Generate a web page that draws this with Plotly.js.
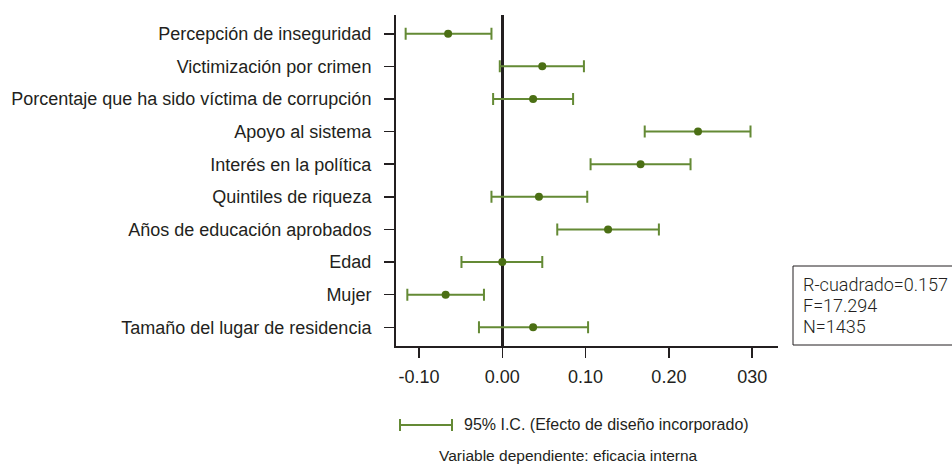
<!DOCTYPE html>
<html>
<head>
<meta charset="utf-8">
<script src="https://cdn.plot.ly/plotly-3.0.1.min.js"></script>
<style>html,body{margin:0;padding:0;background:#fff;}#chart{width:952px;height:466px;}</style>
</head>
<body>
<div id="chart"></div>
<script>
const categories = [
  "Percepción de inseguridad",
  "Victimización por crimen",
  "Porcentaje que ha sido víctima de corrupción",
  "Apoyo al sistema",
  "Interés en la política",
  "Quintiles de riqueza",
  "Años de educación aprobados",
  "Edad",
  "Mujer",
  "Tamaño del lugar de residencia"
];
const coef   = [-0.065, 0.048, 0.037, 0.235, 0.166, 0.044, 0.127, 0.000, -0.068, 0.037];
const ciLow  = [-0.116, -0.003, -0.011, 0.171, 0.106, -0.013, 0.066, -0.049, -0.114, -0.028];
const ciHigh = [-0.013, 0.098, 0.085, 0.298, 0.226, 0.102, 0.188, 0.048, -0.022, 0.103];
const xTickVals = [-0.10, 0.00, 0.10, 0.20, 0.30];
const xTickText = ["-0.10", "0.00", "0.10", "0.20", "030"];
const statsLines = ["R-cuadrado=0.157", "F=17.294", "N=1435"];
const legendText = "95% I.C. (Efecto de diseño incorporado)";
const footText = "Variable dependiente: eficacia interna";

const dark = "#231f20";
const green = "#4b6f14";
const greenLine = "#648a35";
const font = "Arial, 'Liberation Sans', Helvetica, sans-serif";
const statFont = "Roboto, 'Noto Sans', sans-serif";

const trace = {
  type: "scatter",
  mode: "markers",
  x: coef,
  y: categories,
  marker: {color: green, size: 8},
  error_x: {
    type: "data",
    symmetric: false,
    array: coef.map((c, i) => ciHigh[i] - c),
    arrayminus: coef.map((c, i) => c - ciLow[i]),
    color: greenLine,
    thickness: 2,
    width: 6
  },
  showlegend: false,
  hoverinfo: "skip"
};

const px = v => (v - 396) / 382;
const py = v => 1 - (v - 15) / 331;

const layout = {
  width: 952,
  height: 466,
  margin: {l: 396, r: 174, t: 15, b: 120},
  paper_bgcolor: "#fff",
  plot_bgcolor: "#fff",
  font: {family: font, color: dark, size: 18},
  showlegend: false,
  xaxis: {
    range: [-0.1276, 0.331],
    tickvals: xTickVals,
    ticktext: xTickText,
    showgrid: false,
    zeroline: true,
    zerolinecolor: dark,
    zerolinewidth: 2.5,
    showline: true,
    linecolor: dark,
    linewidth: 2,
    ticks: "outside",
    ticklen: 10,
    tickwidth: 1.5,
    tickcolor: dark,
    tickfont: {family: font, size: 18, color: dark},
    ticklabelstandoff: 3,
    fixedrange: true
  },
  yaxis: {
    type: "category",
    range: [9.575, -0.575],
    showgrid: false,
    zeroline: false,
    showline: true,
    linecolor: dark,
    linewidth: 2,
    ticks: "outside",
    ticklen: 10,
    tickwidth: 1.5,
    tickcolor: dark,
    tickfont: {family: font, size: 18, color: dark},
    ticklabelstandoff: 9,
    fixedrange: true
  },
  shapes: [
    {type: "rect", xref: "paper", yref: "paper",
     x0: px(793), x1: px(965), y0: py(345), y1: py(266),
     line: {color: dark, width: 1}, fillcolor: "rgba(0,0,0,0)"},
    {type: "line", xref: "paper", yref: "paper",
     x0: px(400), x1: px(452), y0: py(425), y1: py(425),
     line: {color: greenLine, width: 2}},
    {type: "line", xref: "paper", yref: "paper",
     x0: px(400), x1: px(400), y0: py(419), y1: py(431),
     line: {color: greenLine, width: 2}},
    {type: "line", xref: "paper", yref: "paper",
     x0: px(452), x1: px(452), y0: py(419), y1: py(431),
     line: {color: greenLine, width: 2}}
  ],
  annotations: [
    {xref: "paper", yref: "paper", x: px(801), y: py(284),
     xanchor: "left", yanchor: "middle", showarrow: false,
     text: statsLines[0], font: {family: statFont, size: 18, color: dark, weight: 300}},
    {xref: "paper", yref: "paper", x: px(801), y: py(305),
     xanchor: "left", yanchor: "middle", showarrow: false,
     text: statsLines[1], font: {family: statFont, size: 18, color: dark, weight: 300}},
    {xref: "paper", yref: "paper", x: px(801), y: py(326),
     xanchor: "left", yanchor: "middle", showarrow: false,
     text: statsLines[2], font: {family: statFont, size: 18, color: dark, weight: 300}},
    {xref: "paper", yref: "paper", x: px(462), y: py(425),
     xanchor: "left", yanchor: "middle", showarrow: false,
     text: legendText, font: {family: font, size: 16, color: dark}},
    {xref: "paper", yref: "paper", x: px(568), y: py(456),
     xanchor: "center", yanchor: "middle", showarrow: false,
     text: footText, font: {family: font, size: 15.5, color: dark}}
  ]
};

Plotly.newPlot("chart", [trace], layout, {displayModeBar: false, staticPlot: true});
</script>
</body>
</html>
